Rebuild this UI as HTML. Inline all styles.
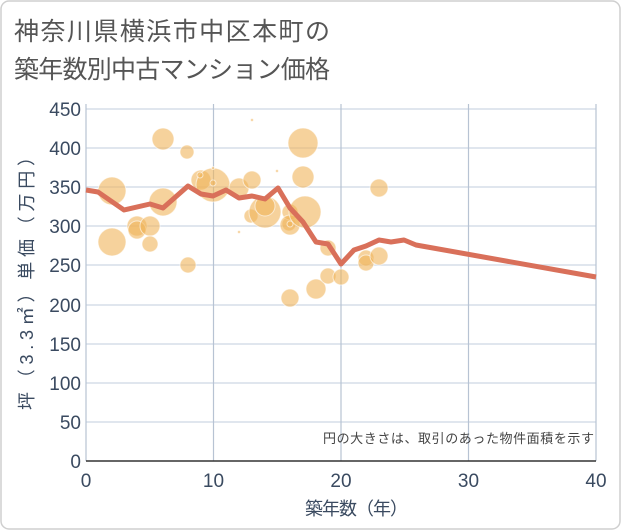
<!DOCTYPE html>
<html><head><meta charset="utf-8"><style>
body{margin:0;background:#fff;}
svg{display:block;font-family:"Liberation Sans","Noto Sans CJK JP",sans-serif;}
</style></head><body>
<svg width="621" height="530" viewBox="0 0 621 530">
<rect x="1" y="1" width="619" height="528" rx="8" fill="#fff" stroke="#cfcfcf" stroke-width="1.5"/>
<text x="14" y="40" font-size="25" fill="#555" textLength="316">神奈川県横浜市中区本町の</text>
<text x="14" y="78" font-size="25" fill="#555" textLength="316">築年数別中古マンション価格</text>
<g stroke="#d5dee9" stroke-width="1.5">
<line x1="86" x2="596" y1="109" y2="109"/><line x1="86" x2="596" y1="148" y2="148"/><line x1="86" x2="596" y1="187" y2="187"/><line x1="86" x2="596" y1="226" y2="226"/><line x1="86" x2="596" y1="265" y2="265"/><line x1="86" x2="596" y1="305" y2="305"/><line x1="86" x2="596" y1="344" y2="344"/><line x1="86" x2="596" y1="383" y2="383"/><line x1="86" x2="596" y1="422" y2="422"/>
</g>
<g stroke="#b7c3d3" stroke-width="1.2">
<line x1="213.5" x2="213.5" y1="104" y2="461"/><line x1="341" x2="341" y1="104" y2="461"/><line x1="468.5" x2="468.5" y1="104" y2="461"/><line x1="596" x2="596" y1="104" y2="461"/>
<line x1="86" x2="86" y1="104" y2="461"/>
</g>
<line x1="86" x2="596" y1="461" y2="461" stroke="#333" stroke-width="1.5"/>
<g fill="#f0b45a" fill-opacity="0.6" stroke="#fff" stroke-opacity="0.6" stroke-width="1">
<circle cx="112" cy="191" r="14"/><circle cx="112" cy="242" r="14"/>
<circle cx="137" cy="226" r="10"/><circle cx="137" cy="230" r="9"/><circle cx="150" cy="226" r="10"/>
<circle cx="150" cy="244" r="8"/><circle cx="163" cy="139" r="11"/><circle cx="163" cy="202" r="14"/>
<circle cx="187" cy="152" r="7"/><circle cx="188" cy="265" r="8"/><circle cx="201" cy="180" r="10"/>
<circle cx="213" cy="185" r="17"/><circle cx="239" cy="188" r="10"/><circle cx="252" cy="180" r="9"/>
<circle cx="251" cy="216" r="7"/><circle cx="265" cy="212" r="16"/><circle cx="265" cy="206" r="10"/>
<circle cx="289" cy="224" r="7"/><circle cx="290" cy="212" r="8"/><circle cx="290" cy="225" r="10"/>
<circle cx="303" cy="143" r="15"/><circle cx="303" cy="177" r="11"/><circle cx="290" cy="298" r="9"/>
<circle cx="305" cy="212" r="16"/><circle cx="316" cy="289" r="10"/><circle cx="328" cy="276" r="8"/>
<circle cx="328" cy="248" r="8"/><circle cx="341" cy="277" r="8"/><circle cx="366" cy="258" r="8"/>
<circle cx="366" cy="263" r="8"/><circle cx="379" cy="256" r="9"/><circle cx="379" cy="188" r="9"/>
<circle cx="200" cy="175" r="3"/><circle cx="213" cy="168" r="1.5"/><circle cx="252" cy="120" r="1.5"/><circle cx="239" cy="232" r="1.5"/><circle cx="277" cy="171" r="1.5"/><circle cx="290" cy="224" r="3"/><circle cx="213" cy="183" r="3"/>
</g>
<polyline fill="none" stroke="#d9705a" stroke-width="5" stroke-linejoin="round" points="86,190 98,192 124,210 150,204 163,208 188,186 201,194 213,196 226,190 239,198 252,196 265,199 278,188 290,208 303,222 316,242 328,244 341,264 354,250 366,246 379,240 391,242 404,240 416,245 596,277"/>
<g font-size="19" fill="#3a4a60" text-anchor="end">
<text x="81" y="116">450</text><text x="81" y="155">400</text><text x="81" y="194">350</text><text x="81" y="233">300</text><text x="81" y="272">250</text><text x="81" y="312">200</text><text x="81" y="351">150</text><text x="81" y="390">100</text><text x="81" y="429">50</text><text x="81" y="468">0</text>
</g>
<g font-size="19" fill="#3a4a60" text-anchor="middle">
<text x="86" y="487">0</text><text x="213.5" y="487">10</text><text x="341" y="487">20</text><text x="468.5" y="487">30</text><text x="596" y="487">40</text>
</g>
<text x="305" y="515" font-size="18" fill="#3a4a60" textLength="103">築年数（年）</text>
<text transform="translate(33,410) rotate(-90)" font-size="18" fill="#3a4a60" textLength="262">坪（3.3㎡）単価（万円）</text>
<text x="323" y="443" font-size="13" fill="#444" textLength="271">円の大きさは、取引のあった物件面積を示す</text>
</svg>
</body></html>
